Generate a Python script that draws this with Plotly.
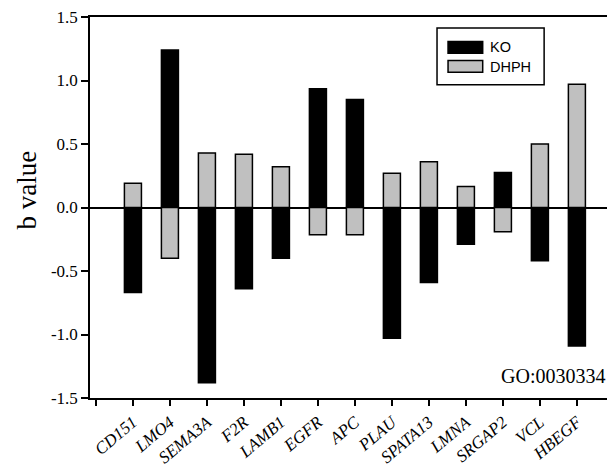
import plotly.graph_objects as go

genes = ["CD151", "LMO4", "SEMA3A", "F2R", "LAMB1", "EGFR", "APC", "PLAU",
         "SPATA13", "LMNA", "SRGAP2", "VCL", "HBEGF"]
ko = [-0.67, 1.24, -1.38, -0.64, -0.40, 0.935, 0.85, -1.03, -0.59, -0.29, 0.275, -0.42, -1.09]
dhph = [0.19, -0.40, 0.43, 0.42, 0.32, -0.215, -0.215, 0.27, 0.36, 0.165, -0.19, 0.50, 0.97]
yticks = [-1.5, -1.0, -0.5, 0.0, 0.5, 1.0, 1.5]
ytick_labels = ["-1.5", "-1.0", "-0.5", "0.0", "0.5", "1.0", "1.5"]

xpos = list(range(len(genes)))
serif = "Liberation Serif"
sans = "Liberation Sans"

fig = go.Figure()
fig.add_trace(go.Bar(x=xpos, y=ko, name="KO", width=0.46,
                     marker=dict(color="black", line=dict(color="black", width=1.5)),
                     showlegend=False))
fig.add_trace(go.Bar(x=xpos, y=dhph, name="DHPH", width=0.46,
                     marker=dict(color="#c0c0c0", line=dict(color="black", width=1.5)),
                     showlegend=False))

tickvals = [-1] + xpos + [len(genes)]
ticktext = [""] + [f"<i>{g}</i>" for g in genes] + [""]

# page body has an 8px default margin, so the figure is sized to fill the rest
fig.update_layout(
    width=607, height=464,
    margin=dict(l=82, r=0, t=9, b=74, autoexpand=False),
    barmode="overlay",
    plot_bgcolor="white", paper_bgcolor="white",
    xaxis=dict(range=[-1.16, 13.03], tickvals=tickvals, ticktext=ticktext,
               tickangle=-40, ticks="outside", ticklen=6, tickwidth=1.5,
               tickcolor="black", showline=True, linecolor="black", linewidth=1.5,
               mirror=True, showgrid=False, zeroline=False, automargin=False,
               ticklabeloverflow="allow",
               tickfont=dict(family=serif, size=17, color="black")),
    yaxis=dict(range=[-1.5, 1.5], tickvals=yticks, ticktext=ytick_labels,
               ticks="outside", ticklen=7, tickwidth=1.5, tickcolor="black",
               showline=True, linecolor="black", linewidth=1.5, showgrid=False,
               zeroline=True, zerolinecolor="black", zerolinewidth=1.5, automargin=False,
               ticklabeloverflow="allow",
               tickfont=dict(family=serif, size=17, color="black")),
)

# y-axis title
fig.add_annotation(xref="paper", yref="paper", x=-0.121, y=0.546, text="b value",
                   textangle=-90, showarrow=False, xanchor="center", yanchor="middle",
                   borderpad=0, font=dict(family=serif, size=27, color="black"))

# legend box
fig.add_shape(type="rect", xref="paper", yref="paper", x0=0.661, x1=0.865, y0=0.822, y1=0.971,
              line=dict(color="black", width=1.5), fillcolor="white")
fig.add_shape(type="rect", xref="paper", yref="paper", x0=0.682, x1=0.748, y0=0.905, y1=0.936,
              line=dict(color="black", width=1.5), fillcolor="black")
fig.add_shape(type="rect", xref="paper", yref="paper", x0=0.682, x1=0.748, y0=0.855, y1=0.886,
              line=dict(color="black", width=1.5), fillcolor="#c0c0c0")
fig.add_annotation(xref="paper", yref="paper", x=0.758, y=0.920, text="KO", showarrow=False,
                   xanchor="left", yanchor="middle", font=dict(family=sans, size=14.5, color="black"))
fig.add_annotation(xref="paper", yref="paper", x=0.758, y=0.870, text="DHPH", showarrow=False,
                   xanchor="left", yanchor="middle", font=dict(family=sans, size=14.5, color="black"))

fig.add_annotation(xref="paper", yref="paper", x=0.985, y=0.058, text="GO:0030334",
                   showarrow=False, xanchor="right", yanchor="middle",
                   font=dict(family=serif, size=20, color="black"))

fig.write_html("out.html")
